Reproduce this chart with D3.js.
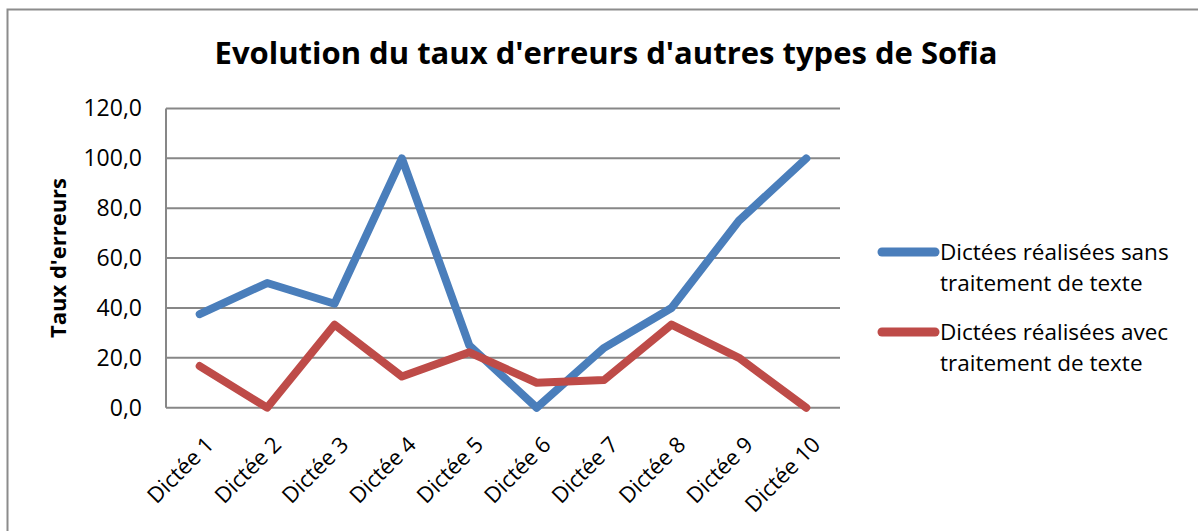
<!DOCTYPE html>
<html><head><meta charset="utf-8">
<script src="https://cdn.jsdelivr.net/npm/d3@7"></script>
<style>body{margin:0;background:#fff}svg{display:block}</style>
</head><body>
<script>
const categories = ["Dictée 1","Dictée 2","Dictée 3","Dictée 4","Dictée 5","Dictée 6","Dictée 7","Dictée 8","Dictée 9","Dictée 10"];
const sansTexte = [37.5, 50.0, 41.7, 100.0, 25.0, 0.0, 24.0, 40.0, 75.0, 100.0];
const avecTexte = [16.7, 0.0, 33.3, 12.5, 22.2, 10.0, 11.1, 33.3, 20.0, 0.0];
const yTicks = [0, 20, 40, 60, 80, 100, 120];
const seriesNames = [["Dictées réalisées sans", "traitement de texte"], ["Dictées réalisées avec", "traitement de texte"]];
const colors = ["#4A7EBB", "#BE4B48"];
const title = "Evolution du taux d'erreurs d'autres types de Sofia";
const yTitle = "Taux d'erreurs";

const W = 1198, H = 531;
const svg = d3.select("body").append("svg").attr("width", W).attr("height", H);
const font = "'Open Sans',sans-serif";

svg.append("rect").attr("x", 7.5).attr("y", 9.5).attr("width", 1200).attr("height", 600)
  .attr("fill", "#fff").attr("stroke", "#8c8c8c").attr("stroke-width", 2);

const m = {l: 166, r: 840, t: 108.5, b: 407.7};
const x = d3.scaleBand().domain(categories).range([m.l, m.r]);
const y = d3.scaleLinear().domain([0, 120]).range([m.b, m.t]);

// grid
svg.append("g").selectAll("line").data(yTicks).join("line")
  .attr("x1", m.l).attr("x2", m.r).attr("y1", d => y(d)).attr("y2", d => y(d))
  .attr("stroke", "#878787").attr("stroke-width", 2);
svg.append("line").attr("x1", m.l).attr("x2", m.l).attr("y1", y(120)).attr("y2", y(0))
  .attr("stroke", "#878787").attr("stroke-width", 2);

// y axis labels
const yAxis = d3.axisLeft(y).tickValues(yTicks).tickSize(0).tickPadding(24)
  .tickFormat(d => d3.format(".1f")(d).replace(".", ","));
const ga = svg.append("g").attr("transform", `translate(${m.l},0)`).call(yAxis);
ga.select(".domain").remove();
ga.selectAll("text").attr("font-family", font).attr("font-size", 23).attr("fill", "#000");

// x labels
const xAxis = d3.axisBottom(x).tickSize(0).tickPadding(0);
const gx = svg.append("g").attr("transform", `translate(0,${m.b})`).call(xAxis);
gx.select(".domain").remove();
gx.selectAll("text").attr("font-family", font).attr("font-size", 22).attr("fill", "#000")
  .attr("text-anchor", "end").attr("dy", "0.35em").attr("y", 0)
  .attr("transform", "translate(10,33) rotate(-45)");

// lines
const line = d3.line().x((d, i) => x(categories[i]) + x.bandwidth() / 2).y(d => y(d));
[sansTexte, avecTexte].forEach((s, k) => {
  svg.append("path").datum(s).attr("d", line).attr("fill", "none")
    .attr("stroke", colors[k]).attr("stroke-width", 8)
    .attr("stroke-linejoin", "round").attr("stroke-linecap", "round");
});

// title
svg.append("text").attr("x", 606).attr("y", 64).attr("text-anchor", "middle")
  .attr("font-family", font).attr("font-weight", "bold").attr("font-size", 31).text(title);

// y title
svg.append("text").attr("transform", "translate(66,258) rotate(-90)").attr("text-anchor", "middle")
  .attr("font-family", font).attr("font-weight", "bold").attr("font-size", 22).text(yTitle);

// legend
const leg = svg.append("g");
seriesNames.forEach((lines, k) => {
  const ly = 252 + k * 80;
  leg.append("line").attr("x1", 882).attr("x2", 935).attr("y1", ly).attr("y2", ly)
    .attr("stroke", colors[k]).attr("stroke-width", 9).attr("stroke-linecap", "round");
  lines.forEach((t, j) => {
    leg.append("text").attr("x", 940).attr("y", ly + j * 31).attr("dy", "0.35em")
      .attr("font-family", font).attr("font-size", 22.5).text(t);
  });
});
</script>
</body></html>
